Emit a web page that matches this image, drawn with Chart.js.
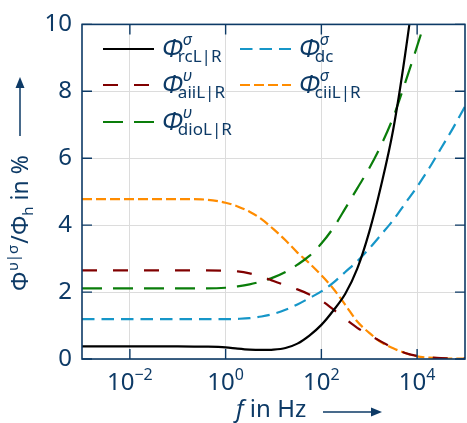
<!DOCTYPE html>
<html>
<head>
<meta charset="utf-8">
<script src="https://cdn.jsdelivr.net/npm/chart.js@4.4.1/dist/chart.umd.min.js"></script>
<style>
html, body { margin: 0; padding: 0; background: #fff; }
</style>
</head>
<body>
<canvas id="myChart" width="467" height="423"></canvas>
<script>
// frequencies in Hz (log axis)
var freq = [0.001, 0.01, 0.1, 0.316, 1, 1.78, 3.16, 5.62, 10, 17.8, 31.6, 56.2, 100,
            178, 316, 562, 1000, 1780, 3160, 5620, 10000, 17800, 31600, 56200, 100000];
var rcLR  = [0.38, 0.38, 0.38, 0.37, 0.35, 0.31, 0.28, 0.27, 0.28, 0.33, 0.46, 0.70, 1.02,
             1.45, 1.95, 2.70, 3.80, 5.20, 6.85, 9.10, 11.8, 15.0, 18.0, 21.0, 24.0];
var aiiLR = [2.65, 2.65, 2.65, 2.65, 2.64, 2.62, 2.56, 2.46, 2.33, 2.20, 2.08, 1.93, 1.75,
             1.48, 1.20, 0.93, 0.72, 0.52, 0.33, 0.18, 0.09, 0.05, 0.03, 0.02, 0.02];
var dioLR = [2.11, 2.11, 2.11, 2.11, 2.13, 2.17, 2.23, 2.32, 2.44, 2.60, 2.82, 3.08, 3.45,
             3.92, 4.50, 5.10, 5.70, 6.40, 7.22, 8.25, 9.35, 10.5, 11.8, 13.0, 14.0];
var dc    = [1.19, 1.19, 1.19, 1.19, 1.19, 1.20, 1.22, 1.27, 1.35, 1.47, 1.63, 1.82, 2.02,
             2.28, 2.60, 2.92, 3.30, 3.72, 4.15, 4.65, 5.15, 5.70, 6.30, 6.90, 7.55];
var ciiLR = [4.78, 4.78, 4.78, 4.77, 4.67, 4.56, 4.40, 4.18, 3.88, 3.55, 3.18, 2.86, 2.50,
             2.10, 1.62, 1.12, 0.78, 0.50, 0.32, 0.18, 0.08, 0.04, 0.02, 0.01, 0.01];

var xTicks = [1e-2, 1, 1e2, 1e4];
var xTickExp = ['\u22122', '0', '2', '4'];
var yTicks = [0, 2, 4, 6, 8, 10];

var navy = '#0d3a66';
var FONT = '"Noto Sans", "Open Sans", sans-serif';

function pts(vals) {
    return freq.map(function (f, i) { return { x: f, y: vals[i] }; });
}

function ds(label, vals, color, dash) {
    return {
        label: label,
        data: pts(vals),
        borderColor: color,
        borderWidth: 2.2,
        borderDash: dash,
        pointRadius: 0,
        fill: false,
        cubicInterpolationMode: 'monotone'
    };
}

// draw a list of text pieces [text, font, dy, dxBefore, dxAfter] one after another
function drawPieces(ctx, x, y, pieces) {
    pieces.forEach(function (p) {
        ctx.font = p[1];
        ctx.fillText(p[0], x + (p[3] || 0), y + p[2]);
        x += ctx.measureText(p[0]).width + (p[3] || 0) + (p[4] || 0);
    });
    return x;
}

var phiI = 'italic 25px ' + FONT;
var supI = 'italic 16px ' + FONT;
var subF = '17px ' + FONT;

var legendItems = [
    { x: 103, y: 49, color: '#000000', dash: [], sup: '\u03c3', sub: 'rcL|R' },
    { x: 103, y: 85, color: '#800000', dash: [15, 16], sup: '\u03c5', sub: 'aiiL|R' },
    { x: 103, y: 122, color: '#0a7d0a', dash: [20, 11], sup: '\u03c5', sub: 'dioL|R' },
    { x: 240, y: 49, color: '#1696c8', dash: [12.5, 7], sup: '\u03c3', sub: 'dc' },
    { x: 240, y: 85, color: '#ff8c00', dash: [10, 4], sup: '\u03c3', sub: 'ciiL|R' }
];

var decor = {
    id: 'decor',
    afterDatasetsDraw: function (chart) {
        var ctx = chart.ctx;
        var a = chart.chartArea;
        var xs = chart.scales.x, ys = chart.scales.y;
        ctx.save();
        // frame
        ctx.strokeStyle = navy;
        ctx.lineWidth = 1.6;
        ctx.strokeRect(a.left, a.top, a.right - a.left, a.bottom - a.top);
        // inward ticks
        ctx.lineWidth = 1.4;
        ctx.beginPath();
        xTicks.forEach(function (v) {
            var px = xs.getPixelForValue(v);
            ctx.moveTo(px, a.bottom); ctx.lineTo(px, a.bottom - 10);
            ctx.moveTo(px, a.top); ctx.lineTo(px, a.top + 10);
        });
        yTicks.forEach(function (v) {
            var py = ys.getPixelForValue(v);
            ctx.moveTo(a.left, py); ctx.lineTo(a.left + 10, py);
            ctx.moveTo(a.right, py); ctx.lineTo(a.right - 10, py);
        });
        ctx.stroke();

        // x tick labels 10^n
        ctx.fillStyle = navy;
        ctx.textBaseline = 'alphabetic';
        ctx.textAlign = 'left';
        xTicks.forEach(function (v, i) {
            var px = xs.getPixelForValue(v);
            ctx.font = '24px ' + FONT;
            var w1 = ctx.measureText('10').width;
            ctx.font = '16px ' + FONT;
            var w2 = ctx.measureText(xTickExp[i]).width;
            var x0 = px - (w1 + w2) / 2;
            drawPieces(ctx, x0, 390, [['10', '24px ' + FONT, 0], [xTickExp[i], '16px ' + FONT, -10]]);
        });

        // x title
        drawPieces(ctx, 236, 417, [['f', 'italic 24px ' + FONT, 0], [' in Hz', '24px ' + FONT, 0]]);
        ctx.strokeStyle = navy;
        ctx.lineWidth = 1.5;
        ctx.beginPath();
        ctx.moveTo(323, 412); ctx.lineTo(374, 412);
        ctx.stroke();
        ctx.beginPath();
        ctx.moveTo(382, 412); ctx.lineTo(371, 407.5); ctx.lineTo(371, 416.5); ctx.closePath();
        ctx.fill();

        // y title (rotated)
        ctx.save();
        ctx.translate(28, 291);
        ctx.rotate(-Math.PI / 2);
        drawPieces(ctx, 0, 0, [
            ['\u03a6', '23px ' + FONT, 0],
            ['\u03c5|\u03c3', '15px ' + FONT, -10, 0.5, 1],
            ['/', '23px ' + FONT, 0],
            ['\u03a6', '23px ' + FONT, 0],
            ['h', '15px ' + FONT, 5],
            [' in %', '23px ' + FONT, 0]
        ]);
        ctx.restore();
        ctx.beginPath();
        ctx.moveTo(20, 136); ctx.lineTo(20, 86);
        ctx.stroke();
        ctx.beginPath();
        ctx.moveTo(20, 77); ctx.lineTo(15.5, 88); ctx.lineTo(24.5, 88); ctx.closePath();
        ctx.fill();

        // legend
        legendItems.forEach(function (it) {
            ctx.strokeStyle = it.color;
            ctx.lineWidth = 2.2;
            ctx.setLineDash(it.dash);
            ctx.beginPath();
            ctx.moveTo(it.x, it.y); ctx.lineTo(it.x + 51, it.y);
            ctx.stroke();
            ctx.setLineDash([]);
            var lx = it.x + 59;
            ctx.fillStyle = navy;
            ctx.font = phiI;
            ctx.fillText('\u03a6', lx, it.y + 8);
            var pe = lx + ctx.measureText('\u03a6').width;
            ctx.font = supI;
            ctx.fillText(it.sup, pe, it.y - 4);
            ctx.font = subF;
            ctx.fillText(it.sub, pe - 5, it.y + 13);
        });
        ctx.restore();
    }
};

var ctx = document.getElementById('myChart').getContext('2d');
var myChart = new Chart(ctx, {
    type: 'line',
    data: {
        datasets: [
            ds('rcL|R', rcLR, '#000000', []),
            ds('aiiL|R', aiiLR, '#800000', [15, 16]),
            ds('dioL|R', dioLR, '#0a7d0a', [20, 11]),
            ds('dc', dc, '#1696c8', [12.5, 7]),
            ds('ciiL|R', ciiLR, '#ff8c00', [10, 4])
        ]
    },
    options: {
        responsive: false,
        animation: false,
        layout: { padding: { left: 0, right: 2, top: 16, bottom: 0 } },
        scales: {
            x: {
                type: 'logarithmic',
                min: 1e-3,
                max: 1e5,
                afterBuildTicks: function (scale) {
                    scale.ticks = xTicks.map(function (v) { return { value: v }; });
                },
                afterFit: function (scale) { scale.height = 64; },
                grid: { color: '#dcdcdc', lineWidth: 1, drawTicks: false },
                border: { display: false },
                ticks: { display: false }
            },
            y: {
                min: 0,
                max: 10,
                afterBuildTicks: function (scale) {
                    scale.ticks = yTicks.map(function (v) { return { value: v }; });
                },
                afterFit: function (scale) { scale.width = 82; },
                grid: { color: '#dcdcdc', lineWidth: 1, drawTicks: false },
                border: { display: false },
                ticks: {
                    padding: 10,
                    color: navy,
                    font: { family: FONT, size: 24 }
                }
            }
        },
        plugins: {
            legend: { display: false },
            tooltip: { enabled: false }
        }
    },
    plugins: [decor]
});
</script>
</body>
</html>
